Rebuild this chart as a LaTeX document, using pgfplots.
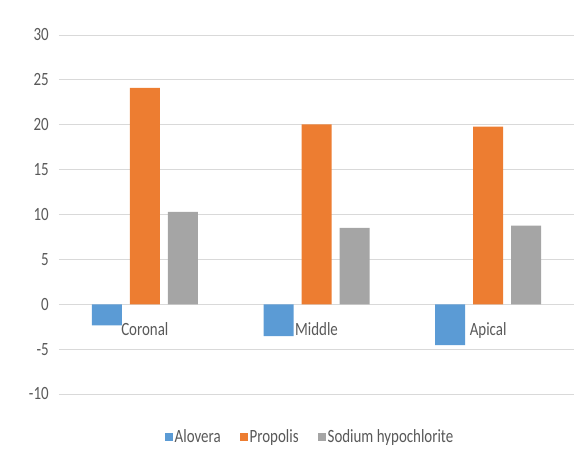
\documentclass[border=0pt]{standalone}
\usepackage{fontspec}
\setmainfont{Carlito}
\usepackage{pgfplots}
\pgfplotsset{compat=1.18}
\definecolor{cblue}{HTML}{5B9BD5}
\definecolor{corange}{HTML}{ED7D31}
\definecolor{cgray}{HTML}{A5A5A5}
\definecolor{cgrid}{HTML}{D9D9D9}
\definecolor{ctext}{HTML}{595959}
\begin{document}
\fontsize{15}{17}\selectfont
\begin{tikzpicture}[x=1bp,y=1bp]
\useasboundingbox (-59bp,-70bp) rectangle (526bp,394bp);
\begin{axis}[
  at={(0,0)}, anchor=south west,
  scale only axis,
  width=515bp, height=359bp,
  xmin=-0.5, xmax=2.5,
  ymin=-10, ymax=30,
  ytick={-10,-5,...,30},
  xtick={0,1,2},
  xticklabels={Coronal,Middle,Apical},
  axis x line=middle,
  axis y line=left,
  axis line style={draw=cgrid, line width=0.8bp, -},
  y axis line style={draw=none},
  major tick style={draw=none},
  ymajorgrids,
  grid style={cgrid, line width=0.8bp},
  ybar,
  bar width=30bp,
  /pgf/number format/assume math mode=true,
  tick label style={text=ctext, font=\fontsize{15}{17}\selectfont, yscale=1.25},
  yticklabel style={xshift=-3bp},
  xticklabel style={anchor=north, yshift=-6bp},
  legend style={at={(251bp,-43bp)}, anchor=center, draw=none, legend columns=3,
    font=\fontsize{15}{17}\selectfont, text=ctext,
    nodes={yscale=1.25},
    /tikz/every even column/.append style={column sep=17bp}},
  legend image code/.code={\fill[#1] (0bp,-4bp) rectangle (8bp,4bp);},
  clip=false,
]
\addplot[fill=cblue, draw=none, bar shift=-38bp] coordinates {(0,-2.35) (1,-3.55) (2,-4.55)};
\addplot[fill=corange, draw=none, bar shift=0bp] coordinates {(0,24.1) (1,20.05) (2,19.8)};
\addplot[fill=cgray, draw=none, bar shift=38bp] coordinates {(0,10.3) (1,8.5) (2,8.75)};
\legend{Alovera,Propolis,Sodium hypochlorite}
\end{axis}
\end{tikzpicture}
\end{document}
